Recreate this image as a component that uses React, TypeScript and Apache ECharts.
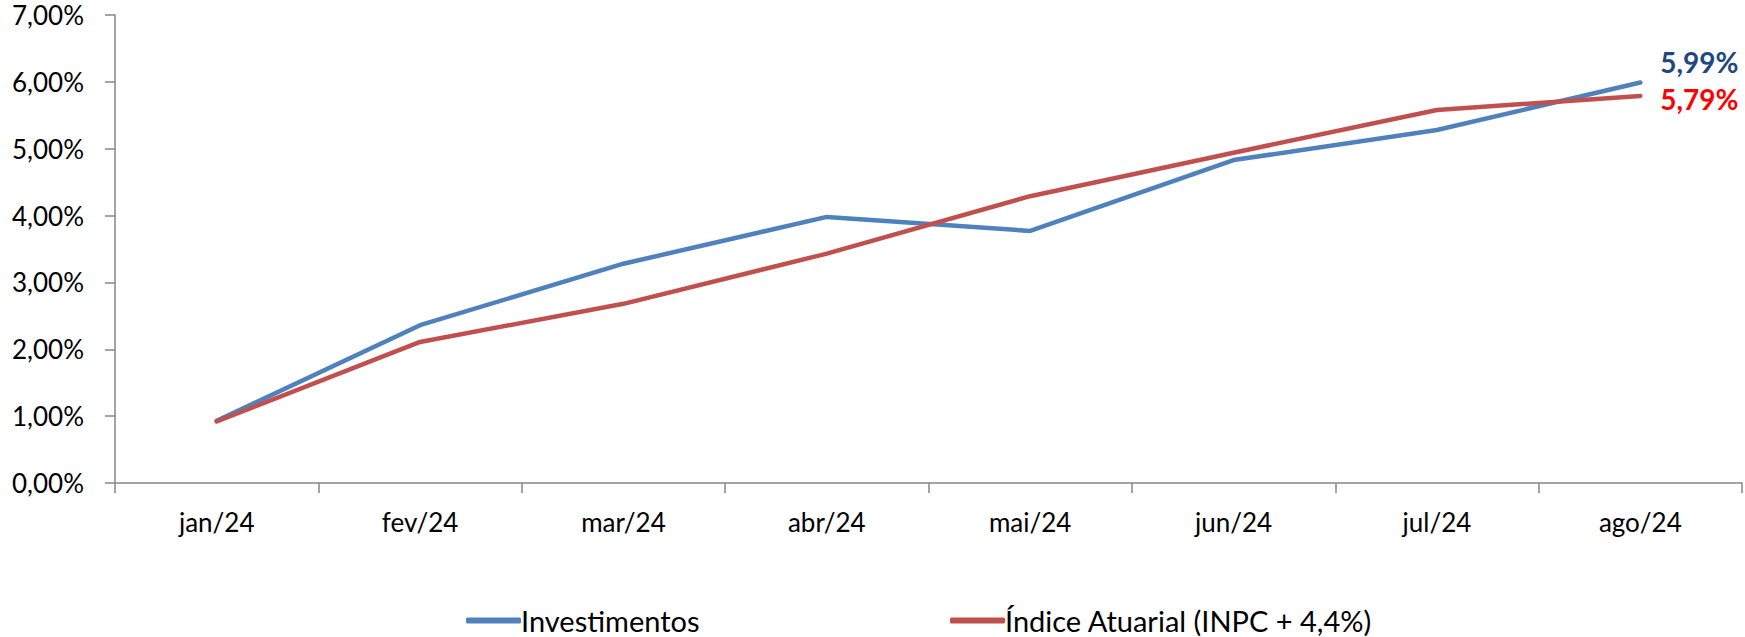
import React, { useEffect, useRef } from "react";
import * as echarts from "echarts";

const categories = ["jan/24", "fev/24", "mar/24", "abr/24", "mai/24", "jun/24", "jul/24", "ago/24"];
const investimentos = [0.93, 2.36, 3.28, 3.98, 3.77, 4.83, 5.28, 5.99];
const indiceAtuarial = [0.92, 2.11, 2.68, 3.43, 4.29, 4.94, 5.58, 5.79];
const seriesNames = ["Investimentos", "Índice Atuarial (INPC + 4,4%)"];
const yTicks = { min: 0, max: 7, interval: 1 };

const FONT = "Lato, 'Noto Sans', sans-serif";
const fmt = (v: number) => v.toFixed(2).replace(".", ",") + "%";

export default function App() {
  const ref = useRef<HTMLDivElement>(null);
  useEffect(() => {
    document.body.style.margin = "0";
    if (!ref.current) return;
    const chart = echarts.init(ref.current, undefined, { renderer: "svg" });
    const endLabel = (color: string, offsetY: number) => ({
      show: true,
      distance: 20,
      offset: [0, offsetY],
      formatter: (p: any) => fmt(Array.isArray(p.value) ? p.value[1] : p.value),
      color,
      fontWeight: "bold",
      fontSize: 28,
      fontFamily: FONT,
    });
    const legendBase = {
      top: 606,
      padding: 0,
      icon: "roundRect",
      itemWidth: 55,
      itemHeight: 6,
      itemGap: 4,
      textStyle: { fontSize: 29, lineHeight: 29, color: "#000", fontFamily: FONT, padding: [0, 0, 0, -5] },
    };
    chart.setOption({
      animation: false,
      backgroundColor: "#ffffff",
      grid: { left: 115, right: 3, top: 15, bottom: 154, containLabel: false },
      legend: [
        { ...legendBase, data: [seriesNames[0]], left: 466 },
        { ...legendBase, data: [seriesNames[1]], left: 950 },
      ],
      xAxis: {
        type: "category",
        data: categories,
        boundaryGap: true,
        axisLine: { lineStyle: { color: "#868686", width: 1.5 } },
        axisTick: { show: true, length: 10, interval: 0, lineStyle: { color: "#868686", width: 1.5 } },
        axisLabel: { color: "#000", fontSize: 26, fontFamily: FONT, margin: 26, interval: 0 },
        splitLine: { show: false },
      },
      yAxis: {
        type: "value",
        min: yTicks.min,
        max: yTicks.max,
        interval: yTicks.interval,
        axisLine: { show: true, lineStyle: { color: "#868686", width: 1.5 } },
        axisTick: { show: true, length: 10, lineStyle: { color: "#868686", width: 1.5 } },
        axisLabel: { color: "#000", fontSize: 26, fontFamily: FONT, margin: 31, formatter: (v: number) => fmt(v) },
        splitLine: { show: false },
      },
      series: [
        {
          name: seriesNames[0],
          type: "line",
          data: investimentos,
          symbol: "none",
          clip: false,
          color: "#4F81BD",
          lineStyle: { width: 4.5, color: "#4F81BD", cap: "round", join: "round" },
          endLabel: endLabel("#1F497D", -21),
          z: 2,
        },
        {
          name: seriesNames[1],
          type: "line",
          data: indiceAtuarial,
          symbol: "none",
          clip: false,
          color: "#C0504D",
          lineStyle: { width: 4.5, color: "#C0504D", cap: "round", join: "round" },
          endLabel: endLabel("#FF0000", 3),
          z: 3,
        },
      ],
    });
    return () => chart.dispose();
  }, []);
  return <div ref={ref} style={{ width: 1745, height: 637 }} />;
}
